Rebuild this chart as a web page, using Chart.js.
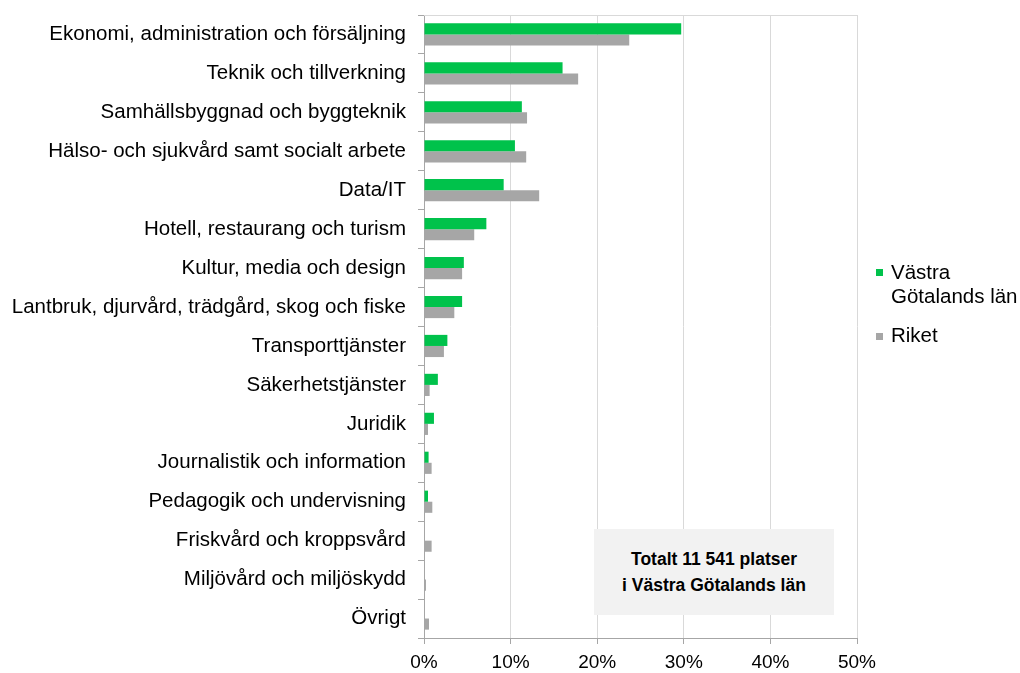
<!DOCTYPE html>
<html>
<head>
<meta charset="utf-8">
<script src="https://cdn.jsdelivr.net/npm/chart.js@4.4.1/dist/chart.umd.min.js"></script>
<style>
    html, body { margin: 0; padding: 0; background: #fff; }
    #wrap { position: relative; width: 1020px; height: 673px; font-family: 'Liberation Sans', Arial, sans-serif; }
    #chart { position: absolute; left: 0; top: 0; }
    .legend { position: absolute; left: 876px; font-size: 20.5px; color: #000; line-height: 24px; }
    .legend .sw { position: absolute; left: 0; width: 7px; height: 7px; }
    .legend .txt { position: absolute; left: 15px; white-space: nowrap; }
    #note { position: absolute; left: 594px; top: 529px; width: 240px; height: 86px; background: #f2f2f2;
            font-size: 17.5px; font-weight: bold; text-align: center; line-height: 26px; color: #000;
            display: flex; align-items: center; justify-content: center; }
</style>
</head>
<body>
<div id="wrap">
    <canvas id="chart" width="1020" height="673"></canvas>
    <div class="legend" style="top:260px">
        <div class="sw" style="top:9px;background:#00c24b"></div>
        <div class="txt">Västra<br>Götalands län</div>
    </div>
    <div class="legend" style="top:323px">
        <div class="sw" style="top:10px;background:#a6a6a6"></div>
        <div class="txt">Riket</div>
    </div>
    <div id="note"><div>Totalt 11 541 platser<br>i Västra Götalands län</div></div>
</div>
<script>
    const categories = [
        'Ekonomi, administration och försäljning',
        'Teknik och tillverkning',
        'Samhällsbyggnad och byggteknik',
        'Hälso- och sjukvård samt socialt arbete',
        'Data/IT',
        'Hotell, restaurang och turism',
        'Kultur, media och design',
        'Lantbruk, djurvård, trädgård, skog och fiske',
        'Transporttjänster',
        'Säkerhetstjänster',
        'Juridik',
        'Journalistik och information',
        'Pedagogik och undervisning',
        'Friskvård och kroppsvård',
        'Miljövård och miljöskydd',
        'Övrigt'
    ];

    // andel av platserna, procent
    const vastraGotaland = [29.7, 16.0, 11.3, 10.5, 9.2, 7.2, 4.6, 4.4, 2.7, 1.6, 1.15, 0.53, 0.46, 0, 0, 0];
    const riket = [23.7, 17.8, 11.9, 11.8, 13.3, 5.8, 4.4, 3.5, 2.3, 0.65, 0.46, 0.88, 0.96, 0.88, 0.23, 0.58];

    const xTicks = [0, 10, 20, 30, 40, 50];

    const green = '#00c24b';
    const grey = '#a6a6a6';
    const gridColor = '#d9d9d9';
    const axisColor = '#a6a6a6';

    // top edge of the plot area
    const topLine = {
        id: 'topLine',
        afterDraw(chart) {
            const a = chart.chartArea;
            const ctx = chart.ctx;
            ctx.save();
            ctx.strokeStyle = gridColor;
            ctx.lineWidth = 1;
            ctx.beginPath();
            ctx.moveTo(a.left, a.top + 0.5);
            ctx.lineTo(a.right, a.top + 0.5);
            ctx.stroke();
            ctx.restore();
        }
    };

    new Chart(document.getElementById('chart'), {
        type: 'bar',
        data: {
            labels: categories,
            datasets: [
                { label: 'Västra Götalands län', data: vastraGotaland, backgroundColor: green,
                  categoryPercentage: 0.57, barPercentage: 1 },
                { label: 'Riket', data: riket, backgroundColor: grey,
                  categoryPercentage: 0.57, barPercentage: 1 }
            ]
        },
        options: {
            indexAxis: 'y',
            responsive: false,
            animation: false,
            layout: { padding: { top: 15, right: 163, left: 0, bottom: 0 } },
            scales: {
                x: {
                    min: 0,
                    max: 50,
                    afterBuildTicks: (s) => { s.ticks = xTicks.map(v => ({ value: v })); },
                    afterFit: (s) => { s.height = 35; },
                    grid: { color: gridColor, tickLength: 6, tickColor: axisColor },
                    border: { color: axisColor },
                    ticks: {
                        color: '#000',
                        padding: 7,
                        font: { family: "'Liberation Sans', Arial", size: 19 },
                        callback: (v) => v + '%'
                    }
                },
                y: {
                    afterFit: (s) => { s.width = 424; s.paddingTop = 0; s.paddingBottom = 0; },
                    grid: { drawOnChartArea: false, tickLength: 6, color: axisColor, offset: true },
                    border: { color: axisColor },
                    ticks: {
                        color: '#000',
                        padding: 12,
                        autoSkip: false,
                        font: { family: "'Liberation Sans', Arial", size: 20.5 }
                    }
                }
            },
            plugins: {
                legend: { display: false },
                tooltip: { enabled: false }
            }
        },
        plugins: [topLine]
    });
</script>
</body>
</html>
